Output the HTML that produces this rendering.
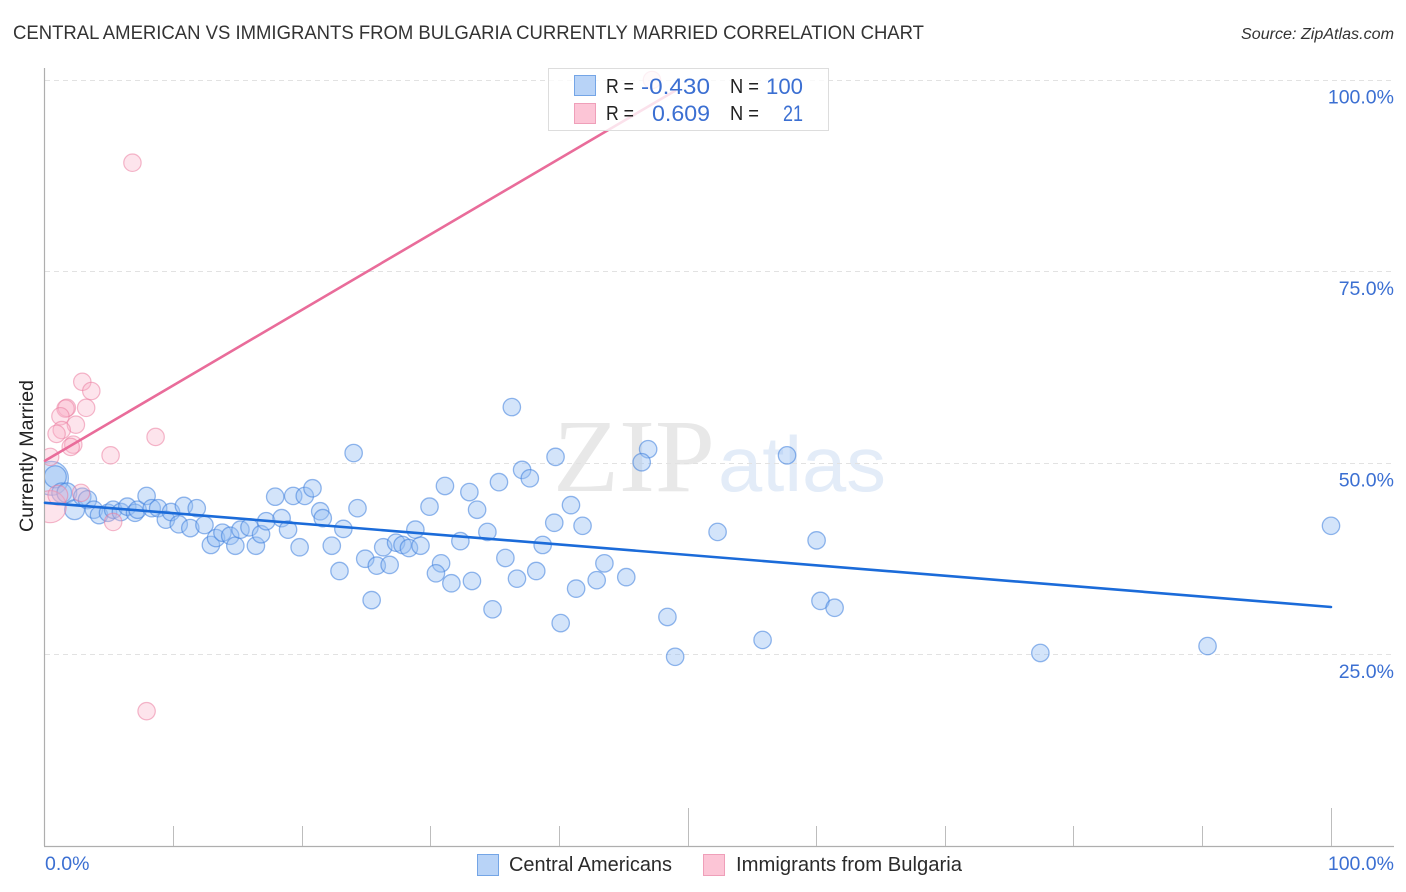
<!DOCTYPE html>
<html>
<head>
<meta charset="utf-8">
<title>Central American vs Immigrants from Bulgaria Currently Married Correlation Chart</title>
<style>
html,body{margin:0;padding:0;background:#fff;width:1406px;height:892px;overflow:hidden}
svg{display:block}
text{font-family:"Liberation Sans",sans-serif}
</style>
</head>
<body>
<svg id="chart" width="1406" height="892" viewBox="0 0 1406 892" xmlns="http://www.w3.org/2000/svg">
  <defs>
    <clipPath id="plot-clip"><rect x="45" y="60" width="1349" height="786"/></clipPath>
  </defs>
  <rect x="0" y="0" width="1406" height="892" fill="#ffffff"/>
  <text x="13" y="39" font-size="19.5" fill="#333333" textLength="911" lengthAdjust="spacingAndGlyphs">CENTRAL AMERICAN VS IMMIGRANTS FROM BULGARIA CURRENTLY MARRIED CORRELATION CHART</text>
  <text x="1394" y="39" font-size="15.5" font-style="italic" fill="#333333" text-anchor="end" textLength="153" lengthAdjust="spacingAndGlyphs">Source: ZipAtlas.com</text>
  <text x="553" y="491" font-size="104" fill="#e8e8e8" textLength="162" lengthAdjust="spacingAndGlyphs" style="font-family:'Liberation Serif',serif">ZIP</text>
  <text x="718" y="491" font-size="78" fill="#e3ecf8" textLength="168" lengthAdjust="spacingAndGlyphs">atlas</text>
  <g id="grid"></g>
  <g id="axes"></g>
  <g id="blue-points" clip-path="url(#plot-clip)"></g>
  <g id="pink-points" clip-path="url(#plot-clip)"></g>
  <g id="lines"></g>
  <g id="labels"></g>
  <text transform="translate(33,456) rotate(-90)" font-size="19" fill="#222222" text-anchor="middle" textLength="152" lengthAdjust="spacingAndGlyphs">Currently Married</text>

  <g>
    <rect x="548.5" y="68.5" width="280" height="62" fill="#ffffff" fill-opacity="0.8" stroke="#dddddd" stroke-width="1"/>
    <rect x="574.5" y="75.5" width="21" height="20" fill="#b8d3f7" stroke="#74a5e6" stroke-width="1"/>
    <rect x="574.5" y="103.5" width="21" height="20" fill="#fcc5d6" stroke="#ef9fb9" stroke-width="1"/>
    <text x="606" y="93" font-size="20" fill="#222222" textLength="28" lengthAdjust="spacingAndGlyphs">R =</text>
    <text x="641" y="94" font-size="22" fill="#3b6fd2" textLength="69" lengthAdjust="spacingAndGlyphs">-0.430</text>
    <text x="730" y="93" font-size="20" fill="#222222" textLength="29" lengthAdjust="spacingAndGlyphs">N =</text>
    <text x="766" y="94" font-size="22" fill="#3b6fd2" textLength="37" lengthAdjust="spacingAndGlyphs">100</text>
    <text x="606" y="120" font-size="20" fill="#222222" textLength="28" lengthAdjust="spacingAndGlyphs">R =</text>
    <text x="652" y="121" font-size="22" fill="#3b6fd2" textLength="58" lengthAdjust="spacingAndGlyphs">0.609</text>
    <text x="730" y="120" font-size="20" fill="#222222" textLength="29" lengthAdjust="spacingAndGlyphs">N =</text>
    <text x="783" y="121" font-size="22" fill="#3b6fd2" textLength="20" lengthAdjust="spacingAndGlyphs">21</text>
  </g>

  <g>
    <rect x="477.5" y="854.5" width="21" height="21" fill="#b8d3f7" stroke="#74a5e6" stroke-width="1"/>
    <text x="509" y="871" font-size="20" fill="#2b2b2b" textLength="163" lengthAdjust="spacingAndGlyphs">Central Americans</text>
    <rect x="703.5" y="854.5" width="21" height="21" fill="#fcc5d6" stroke="#ef9fb9" stroke-width="1"/>
    <text x="736" y="871" font-size="20" fill="#2b2b2b" textLength="226" lengthAdjust="spacingAndGlyphs">Immigrants from Bulgaria</text>
  </g>
</svg>
<script>
const blueX=[0.5,0.8,1.3,1.7,2.3,2.9,3.3,3.8,4.2,4.9,5.3,5.9,6.4,7.0,7.2,7.9,8.3,8.8,9.4,9.8,10.4,10.8,11.3,11.8,12.4,12.9,13.3,13.8,14.4,14.8,15.2,15.9,16.4,16.8,17.2,17.9,18.4,18.9,19.3,19.8,20.2,20.8,21.4,21.6,22.3,22.9,23.2,24.0,24.3,24.9,25.4,25.8,26.8,26.3,27.3,27.8,28.3,28.8,29.2,29.9,31.1,33.0,33.6,34.4,32.3,30.8,30.4,31.6,33.2,34.8,35.8,36.7,38.2,38.7,39.6,40.9,41.8,35.3,37.1,37.7,39.7,40.1,41.3,42.9,43.5,45.2,46.9,46.4,48.4,49.0,52.3,55.8,57.7,60.0,60.3,61.4,77.4,90.4,100,36.3];
const blueY=[48.0,48.2,46.1,46.1,43.9,45.6,45.2,43.9,43.2,43.5,43.9,43.6,44.3,43.5,43.9,45.7,44.1,44.1,42.6,43.6,42.0,44.4,41.5,44.1,41.9,39.3,40.2,40.9,40.5,39.2,41.3,41.6,39.2,40.7,42.4,45.6,42.8,41.3,45.7,39.0,45.7,46.7,43.7,42.8,39.2,35.9,41.4,51.3,44.1,37.5,32.1,36.6,36.7,39.0,39.6,39.3,38.9,41.3,39.2,44.3,47.0,46.2,43.9,41.0,39.8,36.9,35.6,34.3,34.6,30.9,37.6,34.9,35.9,39.3,42.2,44.5,41.8,47.5,49.1,48.0,50.8,29.1,33.6,34.7,36.9,35.1,51.8,50.1,29.9,24.7,41.0,26.9,51.0,39.9,32.0,31.1,25.2,26.1,41.8,57.3];
const blueWeight=[3.8,1.6,1.3,1.3,1.3,1,1.1];
const pinkX=[2.9,3.6,3.2,1.7,1.6,1.2,2.4,1.3,0.9,2.2,2.0,0.4,5.1,8.6,5.3,2.8,0.4,1.0,6.8,7.9,47.2];
const pinkY=[60.6,59.4,57.2,57.2,57.1,56.1,55.0,54.3,53.8,52.4,52.1,50.8,51.0,53.4,42.3,46.1,44.3,45.8,89.2,17.6,100.0];
const pinkWeight=[1,1,1,1,1,1,1,1,1,1,1,1,1,1,1,1,3.4,1.3,1,1,1];
const blueTrendX=[0,100];
const blueTrendY=[44.8,31.2];
const pinkTrendX=[0,49];
const pinkTrendY=[50.3,98.6];
const yTicks=[25,50,75,100];
const yTickLabels=["25.0%","50.0%","75.0%","100.0%"];
const xTicks=[0,10,20,30,40,50,60,70,80,90,100];
const xMajorTicks=[50,100];
const xTickLabels=["0.0%","100.0%"];

const NS='http://www.w3.org/2000/svg';
const plotLeft=45, plotRight=1331, plotTop=80, plotBottom=846, edgeRight=1394;
function xScale(v){return plotLeft+(v/100)*(plotRight-plotLeft);}
function yScale(v){return plotBottom-(v/100)*(plotBottom-plotTop);}
function mk(tag,parent,attrs){
  const el=document.createElementNS(NS,tag);
  for(const k in attrs){el.setAttribute(k,attrs[k]);}
  parent.appendChild(el);
  return el;
}
const grid=document.getElementById('grid');
const axes=document.getElementById('axes');
const labels=document.getElementById('labels');
const bluePts=document.getElementById('blue-points');
const pinkPts=document.getElementById('pink-points');
const lines=document.getElementById('lines');

yTicks.forEach(function(t,i){
  const gy=Math.floor(yScale(t))+0.5;
  const g=mk('line',grid,{x1:plotLeft,x2:edgeRight,y1:gy,y2:gy,stroke:'#e2e2e2','stroke-width':1,'stroke-dasharray':'5 4'});
  
  
  const l=mk('text',labels,{x:edgeRight,y:yScale(t)+23.5,'font-size':19.5,fill:'#3b6fd2','text-anchor':'end'});
  l.textContent=yTickLabels[i];
  
  
});

const yAxis=mk('line',axes,{x1:44.5,x2:44.5,y1:68,y2:plotBottom,stroke:'#aeaeae','stroke-width':1.2});


const xAxis=mk('line',axes,{x1:44,x2:edgeRight,y1:plotBottom+0.5,y2:plotBottom+0.5,stroke:'#aeaeae','stroke-width':1.2});


xTicks.slice(1).forEach(function(t){
  const top=xMajorTicks.indexOf(t)>=0?808:826;
  const px=Math.floor(xScale(t))+0.5;
  const tk=mk('line',axes,{x1:px,x2:px,y1:top,y2:plotBottom,stroke:'#bdbdbd','stroke-width':1});
  
  
});

const x0=mk('text',labels,{x:plotLeft,y:870,'font-size':19.5,fill:'#3b6fd2'});
x0.textContent=xTickLabels[0];


const x1=mk('text',labels,{x:edgeRight,y:870,'font-size':19.5,fill:'#3b6fd2','text-anchor':'end'});
x1.textContent=xTickLabels[1];



const baseR=8.7;
blueX.forEach(function(v,i){
  const w=blueWeight[i]||1;
  const c=mk('circle',bluePts,{cx:xScale(v),cy:yScale(blueY[i]),r:baseR*Math.sqrt(w),fill:'rgba(150,190,243,0.42)',stroke:'rgba(60,125,220,0.55)','stroke-width':1.3});
  
  
});
pinkX.forEach(function(v,i){
  const w=pinkWeight[i]||1;
  const c=mk('circle',pinkPts,{cx:xScale(v),cy:yScale(pinkY[i]),r:baseR*Math.sqrt(w),fill:'rgba(250,175,198,0.34)',stroke:'rgba(235,125,160,0.55)','stroke-width':1.2});
  
  
});

const pinkLine=mk('line',lines,{x1:xScale(pinkTrendX[0]),y1:yScale(pinkTrendY[0]),x2:xScale(pinkTrendX[1]),y2:yScale(pinkTrendY[1]),stroke:'#e96c9a','stroke-width':2.6,'stroke-linecap':'round'});


const blueLine=mk('line',lines,{x1:xScale(blueTrendX[0]),y1:yScale(blueTrendY[0]),x2:xScale(blueTrendX[1]),y2:yScale(blueTrendY[1]),stroke:'#1b6bd9','stroke-width':2.6,'stroke-linecap':'round'});


</script>
</body>
</html>
